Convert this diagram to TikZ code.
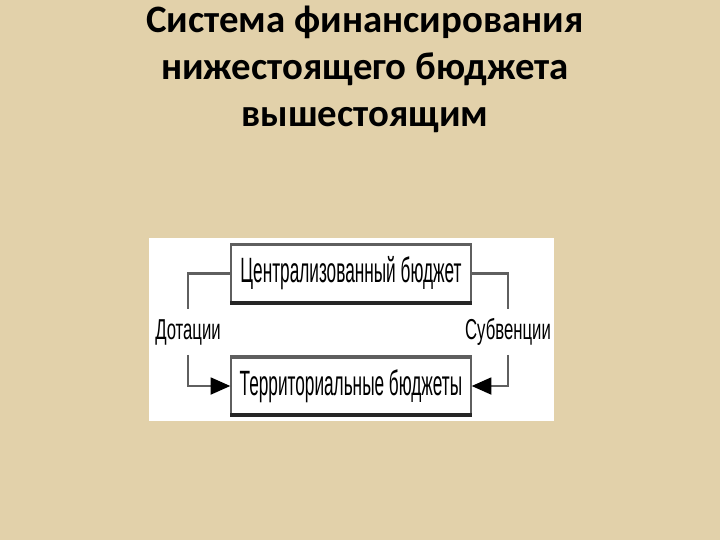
\documentclass[tikz,border=0pt]{standalone}
\usepackage{fontspec}
\setmainfont{Carlito}
\newfontfamily\boxfont[FakeStretch=0.49]{Liberation Sans}
\newfontfamily\labfont[FakeStretch=0.58]{Liberation Sans}
\usetikzlibrary{positioning}
\usetikzlibrary{arrows.meta}
\definecolor{parchment}{RGB}{226,209,170}
\definecolor{linegray}{RGB}{95,95,95}
\tikzset{
    titleline/.style = {anchor=base, inner sep=0pt, font=\bfseries\fontsize{27.6}{33}\selectfont},
    budget/.style = {rectangle, draw=linegray, line width=0.9pt, fill=white, minimum width=6cm, minimum height=1.425cm, inner sep=0pt, font=\boxfont\fontsize{25}{27}\selectfont},
    flowlab/.style = {inner sep=0pt, minimum height=32pt, fill=white, font=\labfont\fontsize{20.5}{22}\selectfont},
    edgetop/.style = {line width=2.6pt, draw=linegray},
    edgebot/.style = {line width=2.8pt, draw=black!85},
    link/.style = {line width=1.6pt, draw=linegray},
    linkarr/.style = {link, -{Triangle[length=14pt,width=12pt,fill=black,color=black]}}
}

\begin{document}
\begin{tikzpicture}[x=0.025cm, y=-0.025cm]
\fill[parchment] (0,0) rectangle (720,540);
\useasboundingbox (0,0) rectangle (720,540);
\fill[white] (149,238) rectangle (554,421);
%
\node[titleline] at (365, 32) (t1) {Система финансирования};
\node[titleline] at (365, 79) (t2) {нижестоящего бюджета};
\node[titleline] at (365,126) (t3) {вышестоящим};
%
\node[budget] at (351,273.5) (cb) {Централизованный бюджет};
\node[budget] at (351,386) (tb) {Территориальные бюджеты};
\node[flowlab] at (188,332) (dot) {Дотации};
\node[flowlab] at (508,332) (sub) {Субвенции};
%
\draw[edgetop] (cb.north west) -- (cb.north east);
\draw[edgebot] (cb.south west) -- (cb.south east);
\draw[edgetop] (tb.north west) -- (tb.north east);
\draw[edgebot] (tb.south west) -- (tb.south east);
%
\draw[link] (cb.west) -| (dot.north);
\draw[linkarr] (dot.south) |- (tb.west);
\draw[link] (cb.east) -| (sub.north);
\draw[linkarr] (sub.south) |- (tb.east);
\end{tikzpicture}
\end{document}
